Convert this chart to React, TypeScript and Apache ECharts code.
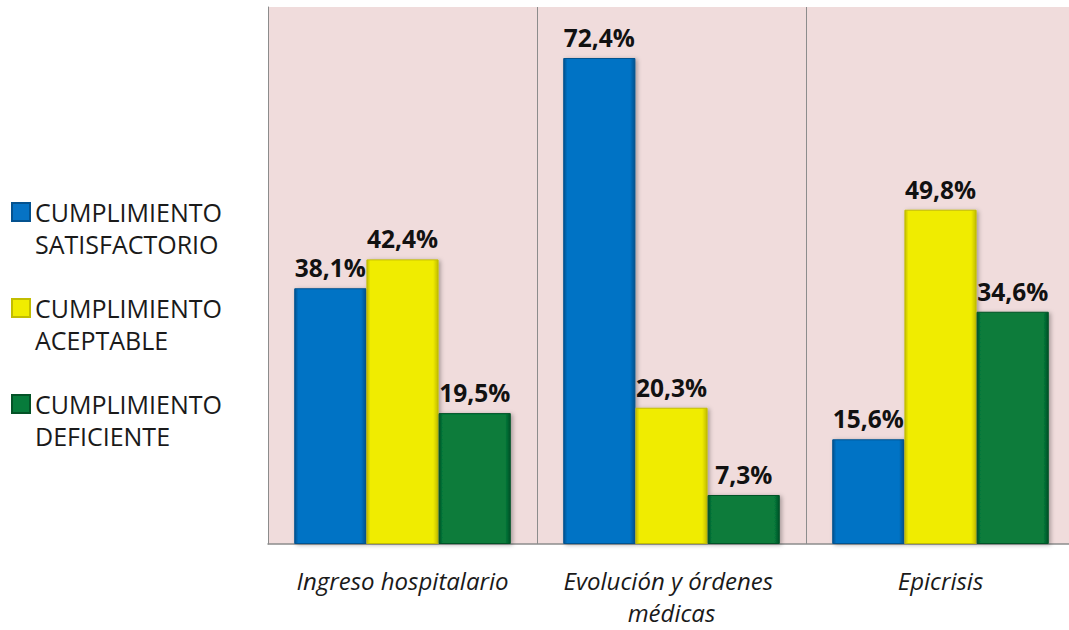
import React, { useEffect, useRef } from "react";
import * as echarts from "echarts";

// Categories along the x axis
const categories = ["Ingreso hospitalario", "Evolución y órdenes médicas", "Epicrisis"];

// Series names (compliance level)
const seriesNames = [
  "CUMPLIMIENTO SATISFACTORIO",
  "CUMPLIMIENTO ACEPTABLE",
  "CUMPLIMIENTO DEFICIENTE",
];

// Percentages per series, in category order
const satisfactorio = [38.1, 72.4, 15.6];
const aceptable = [42.4, 20.3, 49.8];
const deficiente = [19.5, 7.3, 34.6];

const seriesValues = [satisfactorio, aceptable, deficiente];

// Main / edge colours for the bevelled bars
const barColors = [
  { main: "#0673c5", edge: "#04528f" },
  { main: "#f0ec00", edge: "#c2bd00" },
  { main: "#077b3b", edge: "#045327" },
];

const FONT = "'Open Sans', 'Noto Sans', sans-serif";

function bevel(c: { main: string; edge: string }) {
  return new echarts.graphic.LinearGradient(0, 0, 1, 0, [
    { offset: 0, color: c.edge },
    { offset: 0.05, color: c.main },
    { offset: 0.93, color: c.main },
    { offset: 1, color: c.edge },
  ]);
}

function fmt(v: number) {
  return v.toFixed(1).replace(".", ",") + "%";
}

export default function App() {
  const ref = useRef<HTMLDivElement>(null);

  useEffect(() => {
    if (!ref.current) return;
    const chart = echarts.init(ref.current, undefined, { renderer: "svg" });

    chart.setOption({
      animation: false,
      backgroundColor: "#ffffff",
      grid: {
        left: 268,
        top: 7,
        bottom: 86,
        width: 807,
        outerBoundsMode: "none",
        containLabel: false,
        show: true,
        backgroundColor: "#f0dcdc",
        borderWidth: 0,
      },
      legend: {
        orient: "vertical",
        left: 6,
        top: 159,
        itemWidth: 18,
        itemHeight: 18,
        itemGap: 0,
        icon: "rect",
        data: seriesNames,
        // leading blank line keeps the first text line level with the swatch
        formatter: (name: string) => "\n" + name.replace(" ", "\n"),
        textStyle: {
          fontFamily: FONT,
          fontSize: 25,
          color: "#1a1a1a",
          lineHeight: 32,
        },
      },
      xAxis: {
        type: "category",
        data: categories,
        axisTick: { show: false },
        axisLine: { show: true, lineStyle: { color: "#8c8c8c", width: 1.5 } },
        splitLine: { show: true, lineStyle: { color: "#8c8c8c", width: 1 } },
        axisLabel: {
          margin: 20,
          fontFamily: FONT,
          fontStyle: "italic",
          fontSize: 24,
          color: "#1a1a1a",
          lineHeight: 32,
          width: 262,
          overflow: "break",
          interval: 0,
        },
      },
      yAxis: {
        type: "value",
        min: 0,
        max: 80,
        interval: 10,
        axisLabel: { show: false },
        axisTick: { show: false },
        axisLine: { show: true, lineStyle: { color: "#8c8c8c", width: 1 } },
        splitLine: { show: false },
      },
      series: seriesNames.map((name, i) => ({
        name,
        type: "bar",
        data: seriesValues[i],
        barGap: "0%",
        barCategoryGap: "19.5%",
        itemStyle: {
          color: bevel(barColors[i]),
          borderColor: barColors[i].edge,
          borderWidth: 1,
          shadowBlur: 4,
          shadowOffsetX: 2,
          shadowOffsetY: 1,
          shadowColor: "rgba(0,0,0,0.3)",
        },
        label: {
          show: true,
          position: "top",
          distance: 8,
          formatter: (p: any) => fmt(p.value),
          fontFamily: FONT,
          fontWeight: "bold",
          fontSize: 24.5,
          color: "#111111",
        },
      })),
    });

    return () => chart.dispose();
  }, []);

  return (
    <div
      ref={ref}
      style={{ position: "fixed", left: 0, top: 0, width: 1069, height: 630 }}
    />
  );
}
